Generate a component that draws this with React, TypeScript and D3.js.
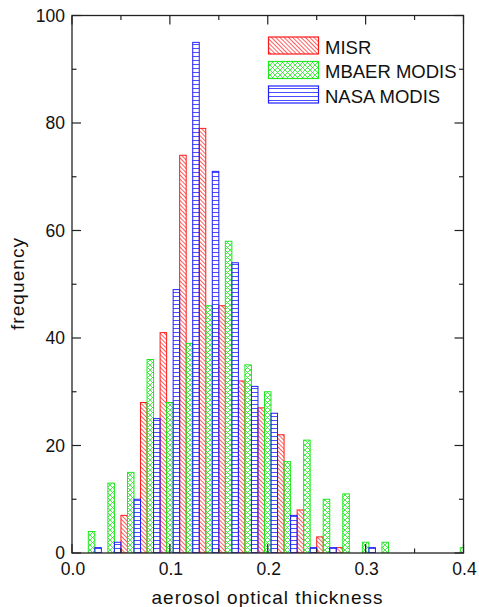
import React from "react";
import * as d3 from "d3";

// Histogram bin centres (aerosol optical thickness)
const binCenters = [0.02, 0.04, 0.06, 0.08, 0.10, 0.12, 0.14, 0.16, 0.18, 0.20, 0.22, 0.24, 0.26, 0.28, 0.30, 0.32, 0.34, 0.36, 0.38, 0.40];
const misr = [0, 0, 7, 28, 41, 74, 79, 46, 32, 27, 22, 8, 3, 1, 0, 0, 0, 0, 0, 0];
const mbaerModis = [4, 13, 15, 36, 28, 39, 46, 58, 35, 30, 17, 21, 10, 11, 2, 2, 0, 0, 0, 1];
const nasaModis = [1, 2, 10, 25, 49, 95, 71, 54, 31, 26, 7, 1, 1, 0, 1, 0, 0, 0, 0, 0];

const seriesNames = ["MISR", "MBAER MODIS", "NASA MODIS"];
const seriesColors = ["#ff1a1a", "#1ee81e", "#1f1fff"];
const seriesPatterns = ["hatchDiag", "hatchCross", "hatchHoriz"];

const xTicksMajor = [0, 0.1, 0.2, 0.3, 0.4];
const xTicksMinor = [0.05, 0.15, 0.25, 0.35];
const yTicksMajor = [0, 20, 40, 60, 80, 100];
const yTicksMinor = [10, 30, 50, 70, 90];

const W = 479;
const H = 607;
const left = 72;
const right = 463.5;
const top = 15.5;
const bottom = 553;
const binWidth = 0.02;

export default function App() {
  const x = d3.scaleLinear().domain([0, 0.4]).range([left, right]);
  const y = d3.scaleLinear().domain([0, 100]).range([bottom, top]);
  const allSeries = [misr, mbaerModis, nasaModis];
  const subW = binWidth / 3;
  const font = "'Liberation Sans', Arial, Helvetica, sans-serif";
  const majorLen = 9;
  const minorLen = 4.5;

  return (
    <svg
      width={W}
      height={H}
      style={{ position: "absolute", left: 0, top: 0, background: "#fff" }}
      fontFamily={font}
    >
      <defs>
        <pattern id="hatchDiag" width={3} height={3} patternUnits="userSpaceOnUse" patternTransform="rotate(-45)">
          <line x1={0.5} y1={0} x2={0.5} y2={3} stroke={seriesColors[0]} strokeWidth={0.7} />
        </pattern>
        <pattern id="hatchCross" width={5} height={5} patternUnits="userSpaceOnUse">
          <line x1={0} y1={0} x2={5} y2={5} stroke={seriesColors[1]} strokeWidth={0.8} />
          <line x1={5} y1={0} x2={0} y2={5} stroke={seriesColors[1]} strokeWidth={0.8} />
        </pattern>
        <pattern id="hatchHoriz" width={6} height={4} patternUnits="userSpaceOnUse">
          <line x1={0} y1={0.5} x2={6} y2={0.5} stroke={seriesColors[2]} strokeWidth={0.8} />
        </pattern>
        <clipPath id="plotClip">
          <rect x={left} y={top} width={right - left} height={bottom - top} />
        </clipPath>
      </defs>

      {/* bars */}
      <g clipPath="url(#plotClip)">
        {allSeries.map((vals, si) =>
          vals.map((v, bi) => {
            if (v <= 0) return null;
            const x0 = x(binCenters[bi] - binWidth / 2 + si * subW);
            const x1 = x(binCenters[bi] - binWidth / 2 + (si + 1) * subW);
            return (
              <rect
                key={`${si}-${bi}`}
                x={x0}
                y={y(v)}
                width={x1 - x0}
                height={y(0) - y(v)}
                fill={`url(#${seriesPatterns[si]})`}
                stroke={seriesColors[si]}
                strokeWidth={1}
              />
            );
          })
        )}
      </g>

      {/* frame */}
      <rect x={left} y={top} width={right - left} height={bottom - top} fill="none" stroke="#222" strokeWidth={1.3} />

      {/* x ticks (bottom and top, inward) */}
      {xTicksMajor.map((t) => (
        <g key={`xm${t}`}>
          <line x1={x(t)} x2={x(t)} y1={bottom} y2={bottom - majorLen} stroke="#222" strokeWidth={1.2} />
          <line x1={x(t)} x2={x(t)} y1={top} y2={top + majorLen} stroke="#222" strokeWidth={1.2} />
          <text x={x(t) + 1} y={575} fontSize={17.5} textAnchor="middle" fill="#111">
            {t.toFixed(1)}
          </text>
        </g>
      ))}
      {xTicksMinor.map((t) => (
        <g key={`xn${t}`}>
          <line x1={x(t)} x2={x(t)} y1={bottom} y2={bottom - minorLen} stroke="#222" strokeWidth={1.2} />
          <line x1={x(t)} x2={x(t)} y1={top} y2={top + minorLen} stroke="#222" strokeWidth={1.2} />
        </g>
      ))}

      {/* y ticks (left and right, inward) */}
      {yTicksMajor.map((t) => (
        <g key={`ym${t}`}>
          <line x1={left} x2={left + majorLen} y1={y(t)} y2={y(t)} stroke="#222" strokeWidth={1.2} />
          <line x1={right} x2={right - majorLen} y1={y(t)} y2={y(t)} stroke="#222" strokeWidth={1.2} />
          <text x={65} y={y(t)} dy="0.36em" fontSize={17.5} textAnchor="end" fill="#111">
            {t}
          </text>
        </g>
      ))}
      {yTicksMinor.map((t) => (
        <g key={`yn${t}`}>
          <line x1={left} x2={left + minorLen} y1={y(t)} y2={y(t)} stroke="#222" strokeWidth={1.2} />
          <line x1={right} x2={right - minorLen} y1={y(t)} y2={y(t)} stroke="#222" strokeWidth={1.2} />
        </g>
      ))}

      {/* axis titles */}
      <text x={267} y={604} fontSize={19} textAnchor="middle" fill="#111" textLength={231} lengthAdjust="spacing">
        aerosol optical thickness
      </text>
      <text
        transform="translate(24,284) rotate(-90)"
        fontSize={19}
        textAnchor="middle"
        fill="#111"
        textLength={92}
        lengthAdjust="spacing"
      >
        frequency
      </text>

      {/* legend */}
      {seriesNames.map((name, i) => {
        const ly = 37 + i * 24.5;
        return (
          <g key={name}>
            <rect x={268.5} y={ly} width={50} height={17} fill={`url(#${seriesPatterns[i]})`} stroke={seriesColors[i]} strokeWidth={1.2} />
            <text x={325} y={ly + 16.5} fontSize={18.5} fill="#111">
              {name}
            </text>
          </g>
        );
      })}
    </svg>
  );
}
